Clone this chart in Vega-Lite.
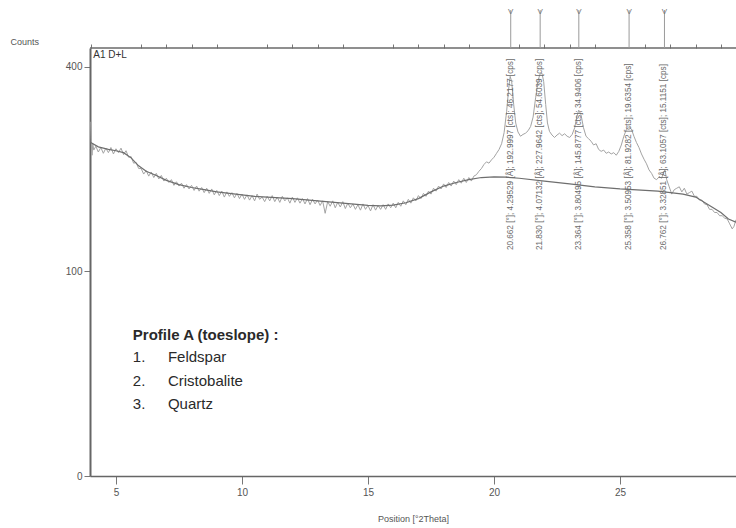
{
  "$schema": "https://vega.github.io/schema/vega-lite/v6.json",
  "width": 646,
  "height": 428,
  "autosize": {"type": "none"},
  "padding": {"left": 90, "top": 48, "right": 0, "bottom": 52},
  "background": "white",
  "config": {"view": {"stroke": null}, "font": "Liberation Sans", "text": {"font": "Liberation Sans"}},
  "resolve": {"axis": {"x": "independent"}},
  "datasets": {
    "raw": [
      {"t":4.00,"c":300},{"t":4.02,"c":270},{"t":4.05,"c":246},{"t":4.08,"c":264},{"t":4.12,"c":254},{"t":4.2,"c":260},{"t":4.3,"c":251},{"t":4.4,"c":258},{"t":4.5,"c":249},{"t":4.6,"c":257},{"t":4.7,"c":250},{"t":4.8,"c":258},{"t":4.9,"c":248},{"t":5.0,"c":256},{"t":5.1,"c":250},{"t":5.2,"c":257},{"t":5.3,"c":247},{"t":5.4,"c":253},{"t":5.5,"c":243},{"t":5.6,"c":244},{"t":5.7,"c":234},{"t":5.8,"c":235},{"t":5.9,"c":226},
      {"t":6.0,"c":226},{"t":6.1,"c":218},{"t":6.2,"c":223},{"t":6.3,"c":215},{"t":6.4,"c":221},{"t":6.5,"c":213},{"t":6.6,"c":219},{"t":6.7,"c":211},{"t":6.8,"c":216},{"t":6.9,"c":208},{"t":7.0,"c":212},{"t":7.1,"c":206},{"t":7.2,"c":210},{"t":7.3,"c":202},{"t":7.4,"c":207},{"t":7.5,"c":201},{"t":7.6,"c":205},{"t":7.7,"c":198},{"t":7.8,"c":203},{"t":7.9,"c":197},{"t":8.0,"c":202},{"t":8.1,"c":195},{"t":8.2,"c":201},{"t":8.3,"c":194},{"t":8.4,"c":199},{"t":8.5,"c":192},{"t":8.6,"c":198},{"t":8.7,"c":191},{"t":8.8,"c":197},{"t":8.9,"c":189},{"t":9.0,"c":195},{"t":9.1,"c":188},{"t":9.2,"c":194},{"t":9.3,"c":186},{"t":9.4,"c":193},{"t":9.5,"c":187},{"t":9.6,"c":192},{"t":9.7,"c":185},{"t":9.8,"c":191},{"t":9.9,"c":184},{"t":10.0,"c":190},{"t":10.1,"c":183},{"t":10.2,"c":189},{"t":10.3,"c":182},{"t":10.4,"c":188},{"t":10.5,"c":181},{"t":10.6,"c":190},{"t":10.7,"c":183},{"t":10.8,"c":186},{"t":10.9,"c":180},{"t":11.0,"c":187},{"t":11.1,"c":181},{"t":11.2,"c":188},{"t":11.3,"c":180},{"t":11.4,"c":186},{"t":11.5,"c":179},{"t":11.6,"c":187},{"t":11.7,"c":181},{"t":11.8,"c":185},{"t":11.9,"c":178},{"t":12.0,"c":186},{"t":12.1,"c":179},{"t":12.2,"c":185},{"t":12.3,"c":178},{"t":12.4,"c":184},{"t":12.5,"c":177},{"t":12.6,"c":184},{"t":12.7,"c":176},{"t":12.8,"c":183},{"t":12.9,"c":177},{"t":13.0,"c":182},{"t":13.1,"c":175},{"t":13.2,"c":181},{"t":13.3,"c":165},{"t":13.4,"c":180},{"t":13.5,"c":174},{"t":13.6,"c":181},{"t":13.7,"c":172},{"t":13.8,"c":179},{"t":13.9,"c":173},{"t":14.0,"c":180},{"t":14.1,"c":171},{"t":14.2,"c":178},{"t":14.3,"c":172},{"t":14.4,"c":177},{"t":14.5,"c":170},{"t":14.6,"c":176},{"t":14.7,"c":169},{"t":14.8,"c":177},{"t":14.9,"c":170},{"t":15.0,"c":175},{"t":15.1,"c":168},{"t":15.2,"c":176},{"t":15.3,"c":169},{"t":15.4,"c":175},{"t":15.5,"c":170},{"t":15.6,"c":176},{"t":15.7,"c":170},{"t":15.8,"c":177},{"t":15.9,"c":172},{"t":16.0,"c":178},{"t":16.1,"c":172},{"t":16.2,"c":179},{"t":16.3,"c":174},{"t":16.4,"c":181},{"t":16.5,"c":176},{"t":16.6,"c":183},{"t":16.7,"c":178},{"t":16.8,"c":185},{"t":16.9,"c":181},{"t":17.0,"c":188},{"t":17.1,"c":184},{"t":17.2,"c":191},{"t":17.3,"c":187},{"t":17.4,"c":194},{"t":17.5,"c":190},{"t":17.6,"c":198},{"t":17.7,"c":194},{"t":17.8,"c":201},{"t":17.9,"c":197},{"t":18.0,"c":204},{"t":18.1,"c":199},{"t":18.2,"c":206},{"t":18.3,"c":201},{"t":18.4,"c":208},{"t":18.5,"c":203},{"t":18.6,"c":210},{"t":18.7,"c":205},{"t":18.8,"c":212},{"t":18.9,"c":206},{"t":19.0,"c":213},{"t":19.1,"c":208},{"t":19.2,"c":215},
      {"t":19.3,"c":217},{"t":19.4,"c":222},{"t":19.5,"c":226},{"t":19.6,"c":232},{"t":19.7,"c":236},{"t":19.8,"c":234},{"t":19.9,"c":239},{"t":20.0,"c":243},{"t":20.1,"c":249},{"t":20.2,"c":255},{"t":20.3,"c":264},{"t":20.4,"c":282},{"t":20.5,"c":318},{"t":20.58,"c":358},{"t":20.64,"c":382},{"t":20.7,"c":372},{"t":20.78,"c":330},{"t":20.86,"c":298},{"t":20.95,"c":283},{"t":21.05,"c":276},{"t":21.15,"c":279},{"t":21.25,"c":281},{"t":21.35,"c":285},{"t":21.45,"c":292},{"t":21.55,"c":308},{"t":21.65,"c":342},{"t":21.75,"c":374},{"t":21.82,"c":386},{"t":21.9,"c":388},{"t":21.97,"c":372},{"t":22.05,"c":330},{"t":22.12,"c":298},{"t":22.2,"c":284},{"t":22.3,"c":278},{"t":22.4,"c":274},{"t":22.5,"c":278},{"t":22.6,"c":281},{"t":22.7,"c":277},{"t":22.8,"c":280},{"t":22.9,"c":276},{"t":23.0,"c":274},{"t":23.1,"c":279},{"t":23.2,"c":290},{"t":23.28,"c":308},{"t":23.36,"c":320},{"t":23.45,"c":312},{"t":23.55,"c":290},{"t":23.65,"c":276},{"t":23.75,"c":272},{"t":23.85,"c":268},{"t":23.95,"c":262},{"t":24.05,"c":264},{"t":24.15,"c":255},{"t":24.25,"c":252},{"t":24.35,"c":254},{"t":24.45,"c":249},{"t":24.55,"c":251},{"t":24.65,"c":248},{"t":24.75,"c":250},{"t":24.85,"c":246},{"t":24.95,"c":252},{"t":25.05,"c":262},{"t":25.15,"c":276},{"t":25.25,"c":287},{"t":25.35,"c":292},{"t":25.45,"c":288},{"t":25.55,"c":276},{"t":25.65,"c":266},{"t":25.75,"c":258},{"t":25.85,"c":248},{"t":25.95,"c":240},{"t":26.05,"c":233},{"t":26.15,"c":224},{"t":26.25,"c":219},{"t":26.35,"c":212},{"t":26.45,"c":210},{"t":26.55,"c":214},{"t":26.65,"c":212},{"t":26.72,"c":220},{"t":26.78,"c":224},{"t":26.85,"c":210},{"t":26.95,"c":200},{"t":27.05,"c":190},{"t":27.15,"c":196},{"t":27.25,"c":198},{"t":27.35,"c":200},{"t":27.45,"c":193},{"t":27.55,"c":198},{"t":27.65,"c":190},{"t":27.75,"c":192},{"t":27.85,"c":194},{"t":27.95,"c":187},{"t":28.05,"c":187},{"t":28.15,"c":182},{"t":28.25,"c":182},{"t":28.35,"c":177},{"t":28.45,"c":176},{"t":28.55,"c":170},{"t":28.65,"c":170},{"t":28.75,"c":166},{"t":28.85,"c":166},{"t":28.95,"c":162},{"t":29.05,"c":162},{"t":29.15,"c":159},{"t":29.25,"c":158},{"t":29.35,"c":152},{"t":29.45,"c":146},{"t":29.52,"c":149},{"t":29.6,"c":157}
    ],
    "bg": [
      {"t":4.0,"c":266},{"t":4.3,"c":259},{"t":4.7,"c":255},{"t":5.0,"c":253},{"t":5.3,"c":250},{"t":5.6,"c":242},{"t":5.9,"c":230},{"t":6.2,"c":222},{"t":6.6,"c":216},{"t":7.0,"c":209},{"t":7.5,"c":203},{"t":8.0,"c":199},{"t":8.5,"c":196},{"t":9.0,"c":193},{"t":9.5,"c":191},{"t":10.0,"c":189},{"t":10.5,"c":187},{"t":11.0,"c":186},{"t":12.0,"c":184},{"t":13.0,"c":181},{"t":14.0,"c":178},{"t":15.0,"c":175},{"t":15.5,"c":174.5},{"t":16.0,"c":175.5},{"t":16.5,"c":178.5},{"t":17.0,"c":184},{"t":17.5,"c":193},{"t":18.0,"c":201},{"t":18.5,"c":206},{"t":19.0,"c":210},{"t":19.5,"c":213},{"t":20.0,"c":214},{"t":20.5,"c":213.5},{"t":21.0,"c":212},{"t":22.0,"c":208},{"t":23.0,"c":204},{"t":24.0,"c":200},{"t":25.0,"c":197},{"t":26.0,"c":195},{"t":26.5,"c":194},{"t":27.0,"c":192},{"t":27.5,"c":190},{"t":28.0,"c":186},{"t":28.5,"c":176},{"t":29.0,"c":166},{"t":29.3,"c":158},{"t":29.6,"c":154}
    ],
    "peaks": [
      {"t":20.662,"label":"20.662 [°]; 4.29529 [Å]; 192.9997 [cts]; 46.2177 [cps]"},
      {"t":21.830,"label":"21.830 [°]; 4.07132 [Å]; 227.9642 [cts]; 54.6039 [cps]"},
      {"t":23.364,"label":"23.364 [°]; 3.80495 [Å]; 145.8777 [cts]; 34.9406 [cps]"},
      {"t":25.358,"label":"25.358 [°]; 3.50953 [Å]; 81.9282 [cts]; 19.6354 [cps]"},
      {"t":26.762,"label":"26.762 [°]; 3.32851 [Å]; 63.1057 [cts]; 15.1151 [cps]"}
    ]
  },
  "layer": [
    {
      "data": {"name": "raw"},
      "mark": {"type": "line", "color": "#a3a3a3", "strokeWidth": 1, "clip": true},
      "encoding": {
        "x": {"field": "t", "type": "quantitative",
          "scale": {"domain": [3.97, 29.6], "nice": false, "zero": false},
          "axis": {"values": [5, 10, 15, 20, 25], "labelOverlap": false, "tickSize": 8,
            "title": "Position [°2Theta]", "grid": false,
            "domainColor": "#666666", "domainWidth": 1.5, "tickColor": "#777777",
            "labelColor": "#555555", "labelFontSize": 10, "labelFont": "Liberation Sans", "labelPadding": 3,
            "titleFont": "Liberation Sans", "titleFontSize": 9, "titleFontWeight": "normal", "titleColor": "#555555", "titlePadding": 17}},
        "y": {"field": "c", "type": "quantitative",
          "scale": {"type": "sqrt", "domain": [0, 438], "nice": false, "zero": true},
          "axis": {"values": [0, 100, 400], "title": "Counts", "titleAngle": 0, "titleAlign": "left", "titleBaseline": "bottom",
            "titleX": -80, "titleY": -2, "grid": false, "tickSize": 6, "labelOverlap": false,
            "domainColor": "#666666", "domainWidth": 2, "tickColor": "#777777",
            "labelColor": "#555555", "labelFontSize": 10, "labelFont": "Liberation Sans", "labelPadding": 2,
            "titleFont": "Liberation Sans", "titleFontSize": 9, "titleFontWeight": "normal", "titleColor": "#555555"}}
      }
    },
    {
      "data": {"name": "bg"},
      "mark": {"type": "line", "color": "#6e6e6e", "strokeWidth": 1.2, "clip": true},
      "encoding": {
        "x": {"field": "t", "type": "quantitative",
          "axis": {"values": [4,6,7,8,9,11,12,13,14,16,17,18,19,21,22,23,24,26,27,28,29], "tickSize": 4, "labels": false, "domain": false, "title": null, "grid": false, "tickColor": "#777777"}},
        "y": {"field": "c", "type": "quantitative"}}
    },
    {
      "data": {"values": [{}]},
      "mark": {"type": "rule", "color": "#6a6a6a", "strokeWidth": 1.5},
      "encoding": {"y": {"datum": 438}}
    },
    {
      "data": {"name": "peaks"},
      "mark": {"type": "rule", "color": "#9a9a9a", "strokeWidth": 1},
      "encoding": {"x": {"field": "t", "type": "quantitative", "axis": null}, "y": {"datum": 438}, "y2": {"datum": 519}}
    },
    {
      "data": {"name": "peaks"},
      "mark": {"type": "text", "text": "V", "fontSize": 8, "color": "#777777", "baseline": "top"},
      "encoding": {"x": {"field": "t", "type": "quantitative", "axis": null}, "y": {"datum": 524}}
    },
    {
      "data": {"name": "peaks"},
      "mark": {"type": "text", "fontSize": 8.2, "color": "#6a6a6a", "angle": 270, "align": "left", "baseline": "middle"},
      "encoding": {"x": {"field": "t", "type": "quantitative", "axis": null}, "y": {"datum": 122}, "text": {"field": "label"}}
    },
    {
      "data": {"values": [{}]},
      "mark": {"type": "text", "text": "A1 D+L", "fontSize": 10, "color": "#333333", "align": "left", "baseline": "middle"},
      "encoding": {"x": {"datum": 4.1, "axis": null}, "y": {"datum": 424}}
    },
    {
      "data": {"values": [{}]},
      "mark": {"type": "text", "text": "Profile A (toeslope) :", "fontSize": 15, "fontWeight": "bold", "color": "#2a2a2a", "align": "left", "baseline": "middle"},
      "encoding": {"x": {"datum": 5.67, "axis": null}, "y": {"datum": 47.5}}
    },
    {
      "data": {"values": [{"n": "1.", "w": "Feldspar", "c": 33.9}, {"n": "2.", "w": "Cristobalite", "c": 21.6}, {"n": "3.", "w": "Quartz", "c": 12.4}]},
      "mark": {"type": "text", "fontSize": 15, "color": "#2a2a2a", "align": "left", "baseline": "middle"},
      "encoding": {"x": {"datum": 5.67, "axis": null}, "y": {"field": "c", "type": "quantitative"}, "text": {"field": "n"}}
    },
    {
      "data": {"values": [{"n": "1.", "w": "Feldspar", "c": 33.9}, {"n": "2.", "w": "Cristobalite", "c": 21.6}, {"n": "3.", "w": "Quartz", "c": 12.4}]},
      "mark": {"type": "text", "fontSize": 15, "color": "#2a2a2a", "align": "left", "baseline": "middle"},
      "encoding": {"x": {"datum": 7.06, "axis": null}, "y": {"field": "c", "type": "quantitative"}, "text": {"field": "w"}}
    }
  ]
}
